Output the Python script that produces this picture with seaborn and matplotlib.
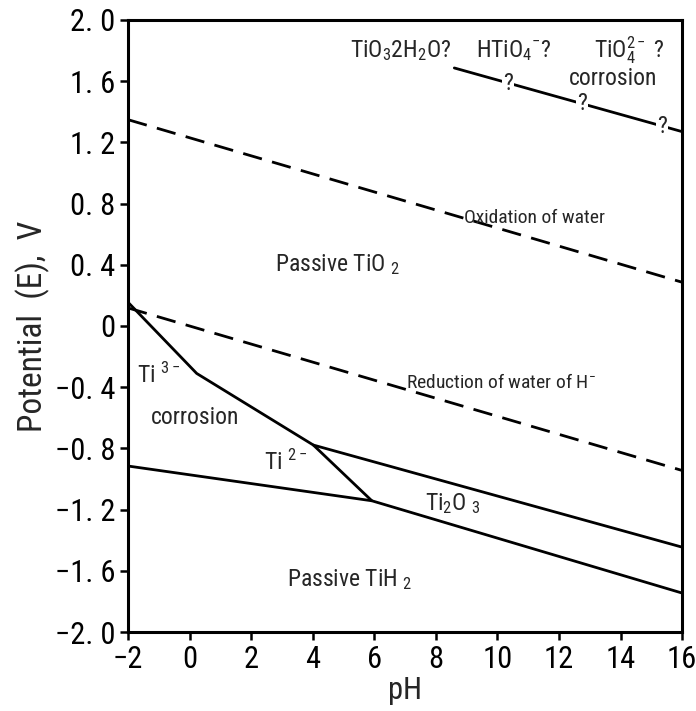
import matplotlib
matplotlib.use("Agg")
import matplotlib.pyplot as plt
from matplotlib import font_manager
import seaborn as sns

sns.set_theme(style="ticks")

# pick a narrow font if one is installed, else Noto Sans CJK JP
names = {f.name for f in font_manager.fontManager.ttflist}
family = "Noto Sans CJK JP"
for cand in ["Liberation Sans Narrow", "Arial Narrow", "Roboto Condensed", "Open Sans Condensed"]:
    if cand in names:
        family = cand
        break
plt.rcParams['font.family'] = [family, 'DejaVu Sans']
plt.rcParams['mathtext.fontset'] = 'custom'
plt.rcParams['mathtext.rm'] = family
plt.rcParams['mathtext.it'] = family

# ---- data ----
ox_ph = [-2, 16]
ox_e = [1.348, 0.286]
red_ph = [-2, 16]
red_e = [0.118, -0.944]
top_ph = [8.6, 16]
top_e = [1.686, 1.27]
ti3_ph = [-2, 0.23, 4.02, 5.92]
ti3_e = [0.155, -0.31, -0.778, -1.142]
upper_ph = [4.02, 16]
upper_e = [-0.778, -1.445]
lower_ph = [-2, 5.92, 16]
lower_e = [-0.915, -1.142, -1.745]
q_ph = [10.35, 12.75, 15.35]

xticks = [-2, 0, 2, 4, 6, 8, 10, 12, 14, 16]
yticks = [2.0, 1.6, 1.2, 0.8, 0.4, 0.0, -0.4, -0.8, -1.2, -1.6, -2.0]
ylabels = ["2. 0", "1. 6", "1. 2", "0. 8", "0. 4", "0", "\u22120. 4", "\u22120. 8",
           "\u22121. 2", "\u22121. 6", "\u22122. 0"]

fig = plt.figure(figsize=(6.96, 7.11), dpi=100)
ax = fig.add_axes([0.184, 0.111, 0.796, 0.861])

lw = 2.0
dash = (7, 3.8)
for xs, ys, dashed in [(ox_ph, ox_e, True), (red_ph, red_e, True),
                       (top_ph, top_e, False), (ti3_ph, ti3_e, False),
                       (upper_ph, upper_e, False), (lower_ph, lower_e, False)]:
    sns.lineplot(x=xs, y=ys, ax=ax, color="black", lw=lw, sort=False, estimator=None)
    if dashed:
        ax.lines[-1].set_dashes(dash)

# question marks on top line
slope = (top_e[1] - top_e[0]) / (top_ph[1] - top_ph[0])
for q in q_ph:
    e = top_e[0] + slope * (q - top_ph[0])
    ax.text(q, e, "?", ha="center", va="center", fontsize=17,
            bbox=dict(facecolor="white", edgecolor="none", pad=0.8))

fs = 17
ax.text(6.87, 1.80, r"TiO$_3$2H$_2$O?", ha="center", va="center", fontsize=fs)
ax.text(10.55, 1.80, r"HTiO$_4$$^{-}$?", ha="center", va="center", fontsize=fs)
ax.text(14.3, 1.80, r"TiO$_4^{2-}$ ?", ha="center", va="center", fontsize=fs)
ax.text(13.76, 1.62, "corrosion", ha="center", va="center", fontsize=fs)
ax.text(11.2, 0.706, "Oxidation of water", ha="center", va="center", fontsize=14)
ax.text(4.8, 0.40, r"Passive TiO $_2$", ha="center", va="center", fontsize=fs)
ax.text(10.1, -0.37, r"Reduction of water of H$^{-}$", ha="center", va="center", fontsize=14)
ax.text(-1.0, -0.32, r"Ti $^{3-}$", ha="center", va="center", fontsize=fs)
ax.text(0.18, -0.60, "corrosion", ha="center", va="center", fontsize=fs)
ax.text(3.1, -0.89, r"Ti $^{2-}$", ha="center", va="center", fontsize=fs)
ax.text(8.56, -1.16, r"Ti$_2$O $_3$", ha="center", va="center", fontsize=fs)
ax.text(5.2, -1.66, r"Passive TiH $_2$", ha="center", va="center", fontsize=fs)

ax.set_xlim(-2, 16)
ax.set_ylim(-2, 2)
ax.set_xticks(xticks)
ax.set_xticklabels([str(t) if t >= 0 else "\u2212" + str(-t) for t in xticks])
ax.set_yticks(yticks)
ax.set_yticklabels(ylabels)
ax.tick_params(direction="out", length=6, width=1.8, labelsize=22, colors="black", pad=3)
for s in ax.spines.values():
    s.set_linewidth(2.2)
    s.set_color("black")
ax.set_xlabel("pH", fontsize=22, labelpad=2)
ax.set_ylabel("Potential  (E),  V", fontsize=24, labelpad=4)
ax.grid(False)

fig.savefig("out.png", dpi=100)
